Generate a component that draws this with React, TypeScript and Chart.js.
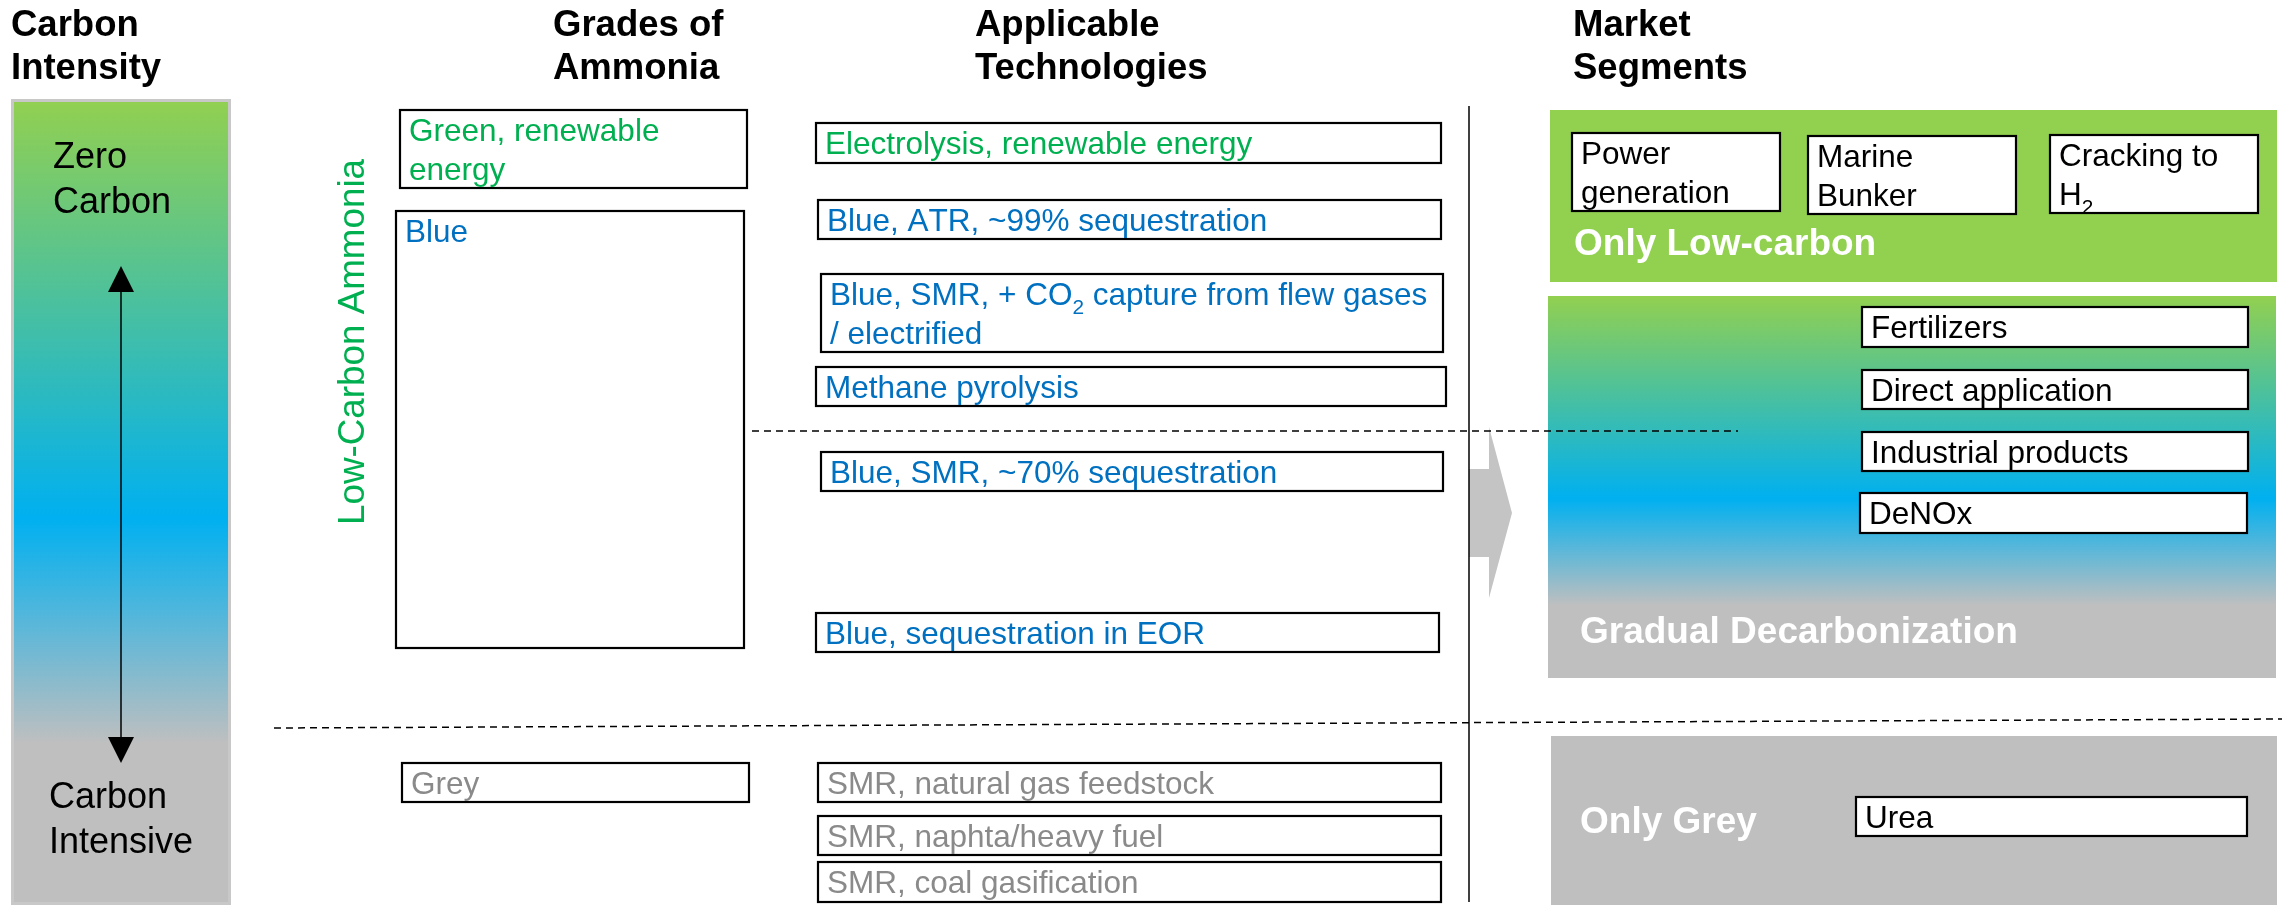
import React, { useEffect, useRef } from "react";
import { Chart, registerables } from "chart.js";

Chart.register(...registerables);

// ---------- content (labels) ----------
const headerLabels = [
  ["Carbon", "Intensity"],
  ["Grades of", "Ammonia"],
  ["Applicable", "Technologies"],
  ["Market", "Segments"],
];
const intensityLabels = ["Zero\nCarbon", "Carbon\nIntensive"];
const lowCarbonLabel = "Low-Carbon Ammonia";
const gradeLabels = ["Green, renewable\nenergy", "Blue", "Grey"];
const gradeKinds = ["green", "blue", "grey"];
const technologyLabels = [
  "Electrolysis, renewable energy",
  "Blue, ATR, ~99% sequestration",
  "Blue, SMR, + CO_2 capture from flew gases\n/ electrified",
  "Methane pyrolysis",
  "Blue, SMR, ~70% sequestration",
  "Blue, sequestration in EOR",
  "SMR, natural gas feedstock",
  "SMR, naphta/heavy fuel",
  "SMR, coal gasification",
];
const technologyKinds = ["green", "blue", "blue", "blue", "blue", "blue", "grey", "grey", "grey"];
const segmentTitles = ["Only Low-carbon", "Gradual Decarbonization", "Only Grey"];
const segmentLabels = [
  ["Power\ngeneration", "Marine\nBunker", "Cracking to\nH_2"],
  ["Fertilizers", "Direct application", "Industrial products", "DeNOx"],
  ["Urea"],
];

// ---------- layout (scale units) ----------
const W = 2282;
const H = 905;
const headerX = [11, 553, 975, 1573];
const headerBaselines = [36, 79];
const intensityPos = [[53, 168], [49, 808]];
const barRect = [11, 99, 231, 905];
const arrowLayout = { x: 121, top: 266, topBase: 292, bottom: 763, bottomBase: 737, half: 13 };
const lowCarbonPos = [364, 525];
const gradeRects = [
  [400, 110, 747, 188],
  [396, 211, 744, 648],
  [402, 763, 749, 802],
];
const techRects = [
  [816, 123, 1441, 163],
  [818, 200, 1441, 239],
  [821, 274, 1443, 352],
  [816, 367, 1446, 406],
  [821, 452, 1443, 491],
  [816, 613, 1439, 652],
  [818, 763, 1441, 802],
  [818, 816, 1441, 855],
  [818, 862, 1441, 902],
];
const panelRects = [
  [1550, 110, 2277, 282],
  [1548, 296, 2276, 678],
  [1551, 736, 2277, 905],
];
const panelTitlePos = [[1574, 255], [1580, 643], [1580, 833]];
const segmentRects = [
  [[1572, 133, 1780, 211], [1808, 136, 2016, 214], [2050, 135, 2258, 213]],
  [[1862, 307, 2248, 347], [1862, 370, 2248, 409], [1862, 432, 2248, 471], [1860, 493, 2247, 533]],
  [[1856, 797, 2247, 836]],
];
const dashedLines = [
  [752, 431, 1738, 431],
  [274, 728, 2282, 719],
];
const dividerLine = [1469, 106, 1469, 902];
const chevron = { x0: 1469, x1: 1489, tip: 1512, bodyTop: 469, bodyBottom: 557, headTop: 427, headBottom: 598, mid: 513 };

// ---------- styles ----------
const FONT = '"Liberation Sans", Arial, Helvetica, sans-serif';
const kindColor: Record<string, string> = { green: "#00b050", blue: "#0070c0", grey: "#8a8a8a" };
const GREEN = "#92d050";
const CYAN = "#00b0f0";
const GREY = "#bfbfbf";

function drawRich(ctx: CanvasRenderingContext2D, text: string, x: number, y: number, size: number, weight = "normal") {
  let cx = x;
  for (let i = 0; i < text.length; i++) {
    const ch = text[i];
    if (ch === "_" && i + 1 < text.length) {
      const s = text[i + 1];
      ctx.font = `${weight} ${size * 0.66}px ${FONT}`;
      ctx.fillText(s, cx, y + size * 0.3);
      cx += ctx.measureText(s).width;
      i++;
    } else {
      ctx.font = `${weight} ${size}px ${FONT}`;
      ctx.fillText(ch, cx, y);
      cx += ctx.measureText(ch).width;
    }
  }
}

const diagramPlugin = {
  id: "ammoniaDiagram",
  afterDraw(chart: any) {
    const ctx: CanvasRenderingContext2D = chart.ctx;
    const xs = chart.scales.x;
    const ys = chart.scales.y;
    const X = (v: number) => xs.getPixelForValue(v);
    const Y = (v: number) => ys.getPixelForValue(v);
    const rect = (r: number[]) => [X(r[0]), Y(r[1]), X(r[2]) - X(r[0]), Y(r[3]) - Y(r[1])];

    ctx.save();
    ctx.textBaseline = "alphabetic";
    ctx.textAlign = "left";

    // left intensity bar
    {
      const [x, y, w, h] = rect(barRect);
      const g = ctx.createLinearGradient(0, y, 0, y + h);
      g.addColorStop(0, GREEN);
      g.addColorStop(0.52, CYAN);
      g.addColorStop(0.8, GREY);
      g.addColorStop(1, GREY);
      ctx.fillStyle = g;
      ctx.fillRect(x, y, w, h);
      ctx.strokeStyle = "#c8c8c8";
      ctx.lineWidth = 3;
      ctx.strokeRect(x + 1.5, y + 1.5, w - 3, h - 3);
    }

    // headers
    ctx.fillStyle = "#000";
    ctx.font = `bold 36.5px ${FONT}`;
    headerLabels.forEach((lines, i) => {
      lines.forEach((t, j) => ctx.fillText(t, X(headerX[i]), Y(headerBaselines[j])));
    });

    // intensity labels
    ctx.font = `normal 36px ${FONT}`;
    intensityLabels.forEach((t, i) => {
      t.split("\n").forEach((line, j) => ctx.fillText(line, X(intensityPos[i][0]), Y(intensityPos[i][1] + j * 45)));
    });

    // double arrow
    {
      const a = arrowLayout;
      ctx.strokeStyle = "#000";
      ctx.lineWidth = 1.5;
      ctx.beginPath();
      ctx.moveTo(X(a.x), Y(a.topBase));
      ctx.lineTo(X(a.x), Y(a.bottomBase));
      ctx.stroke();
      ctx.fillStyle = "#000";
      ctx.beginPath();
      ctx.moveTo(X(a.x), Y(a.top));
      ctx.lineTo(X(a.x - a.half), Y(a.topBase));
      ctx.lineTo(X(a.x + a.half), Y(a.topBase));
      ctx.closePath();
      ctx.fill();
      ctx.beginPath();
      ctx.moveTo(X(a.x), Y(a.bottom));
      ctx.lineTo(X(a.x - a.half), Y(a.bottomBase));
      ctx.lineTo(X(a.x + a.half), Y(a.bottomBase));
      ctx.closePath();
      ctx.fill();
    }

    // rotated label
    ctx.save();
    ctx.translate(X(lowCarbonPos[0]), Y(lowCarbonPos[1]));
    ctx.rotate(-Math.PI / 2);
    ctx.fillStyle = kindColor.green;
    ctx.font = `normal 36.8px ${FONT}`;
    ctx.fillText(lowCarbonLabel, 0, 0);
    ctx.restore();

    const drawBox = (r: number[], label: string, color: string, fill: string | null) => {
      const [x, y, w, h] = rect(r);
      if (fill) {
        ctx.fillStyle = fill;
        ctx.fillRect(x, y, w, h);
      }
      ctx.strokeStyle = "#000";
      ctx.lineWidth = 2.2;
      ctx.strokeRect(x, y, w, h);
      ctx.fillStyle = color;
      label.split("\n").forEach((line, j) => {
        drawRich(ctx, line, X(r[0] + 9), Y(r[1] + 31 + j * 39), 31.5);
      });
    };

    gradeLabels.forEach((t, i) => drawBox(gradeRects[i], t, kindColor[gradeKinds[i]], null));
    technologyLabels.forEach((t, i) => drawBox(techRects[i], t, kindColor[technologyKinds[i]], null));

    // market panels
    panelRects.forEach((r, i) => {
      const [x, y, w, h] = rect(r);
      if (i === 0) ctx.fillStyle = GREEN;
      else if (i === 2) ctx.fillStyle = GREY;
      else {
        const g = ctx.createLinearGradient(0, y, 0, y + h);
        g.addColorStop(0, GREEN);
        g.addColorStop(0.53, CYAN);
        g.addColorStop(0.81, GREY);
        g.addColorStop(1, GREY);
        ctx.fillStyle = g;
      }
      ctx.fillRect(x, y, w, h);
    });
    segmentLabels.forEach((group, i) => {
      group.forEach((t, j) => drawBox(segmentRects[i][j], t, "#000", "#fff"));
      ctx.fillStyle = "#fff";
      ctx.font = `bold 37px ${FONT}`;
      ctx.fillText(segmentTitles[i], X(panelTitlePos[i][0]), Y(panelTitlePos[i][1]));
    });

    // chevron arrow
    {
      const c = chevron;
      ctx.fillStyle = "#c4c4c4";
      ctx.beginPath();
      ctx.moveTo(X(c.x0), Y(c.bodyTop));
      ctx.lineTo(X(c.x1), Y(c.bodyTop));
      ctx.lineTo(X(c.x1), Y(c.headTop));
      ctx.lineTo(X(c.tip), Y(c.mid));
      ctx.lineTo(X(c.x1), Y(c.headBottom));
      ctx.lineTo(X(c.x1), Y(c.bodyBottom));
      ctx.lineTo(X(c.x0), Y(c.bodyBottom));
      ctx.closePath();
      ctx.fill();
    }

    // divider line
    ctx.strokeStyle = "#000";
    ctx.lineWidth = 1.5;
    ctx.setLineDash([]);
    ctx.beginPath();
    ctx.moveTo(X(dividerLine[0]), Y(dividerLine[1]));
    ctx.lineTo(X(dividerLine[2]), Y(dividerLine[3]));
    ctx.stroke();

    // dashed lines
    ctx.setLineDash([7, 5]);
    ctx.lineWidth = 1.5;
    dashedLines.forEach((l) => {
      ctx.beginPath();
      ctx.moveTo(X(l[0]), Y(l[1]));
      ctx.lineTo(X(l[2]), Y(l[3]));
      ctx.stroke();
    });
    ctx.setLineDash([]);

    ctx.restore();
  },
};

export default function App() {
  const ref = useRef<HTMLCanvasElement | null>(null);
  useEffect(() => {
    document.body.style.margin = "0";
    const canvas = ref.current!;
    const chart = new Chart(canvas, {
      type: "scatter",
      data: { datasets: [{ data: [], pointRadius: 0 }] },
      options: {
        animation: false,
        responsive: false,
        devicePixelRatio: 1,
        layout: { padding: 0 },
        plugins: { legend: { display: false }, tooltip: { enabled: false } },
        scales: {
          x: { type: "linear", min: 0, max: W, display: false },
          y: { type: "linear", min: 0, max: H, reverse: true, display: false },
        },
      },
      plugins: [diagramPlugin],
    });
    return () => chart.destroy();
  }, []);
  return <canvas ref={ref} width={W} height={H} style={{ display: "block", width: W, height: H }} />;
}
